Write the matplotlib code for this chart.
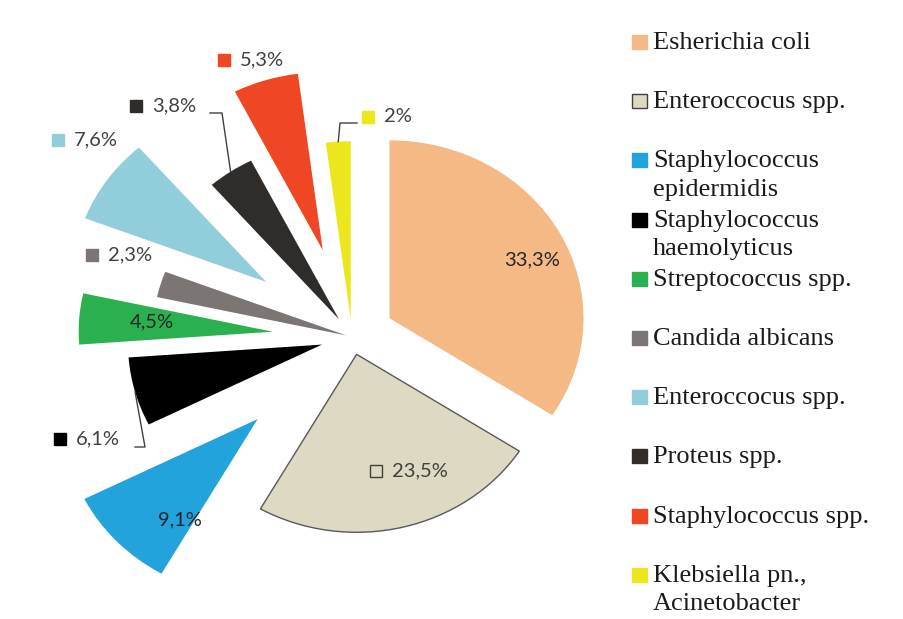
import math
import matplotlib.pyplot as plt

# доли выделенных микроорганизмов, %
species = ['Esherichia coli', 'Enteroccocus spp.', 'Staphylococcus\nepidermidis',
           'Staphylococcus\nhaemolyticus', 'Streptococcus spp.', 'Candida albicans',
           'Enteroccocus spp.', 'Proteus spp.', 'Staphylococcus spp.',
           'Klebsiella pn.,\nAcinetobacter']
shares = [33.3, 23.5, 9.1, 6.1, 4.5, 2.3, 7.6, 3.8, 5.3, 2]

colors = ['#F4B984', '#DDD9C3', '#22A3DC', '#000000', '#2AB04F',
          '#7B7574', '#92CDDC', '#302C29', '#EF4623', '#ECE61C']
explode = [0.22, 0.10, 0.67, 0.16, 0.41, 0.03, 0.54, 0.12, 0.51, 0.10]

W, H = 904, 619
CX, CY = 352, 337      # центр круга, px
RX, RY = 194, 178      # радиус по x и по y, px (диаграмма растянута по ширине)


def px(x, y):
    # пиксели картинки -> координаты данных
    return (x - CX) / RX, (CY - y) / RY


def pct(v):
    return ('%g' % v).replace('.', ',') + '%'


fig = plt.figure(figsize=(W / 100, H / 100), dpi=100)
ax = fig.add_axes([0, 0, 1, 1])

wedges, _ = ax.pie(shares, explode=explode, colors=colors, startangle=90,
                   counterclock=False, radius=1,
                   wedgeprops={'linewidth': 0})
wedges[1].set_edgecolor('#595959')
wedges[1].set_linewidth(1)

ax.set_aspect('auto')
ax.set_xlim(-CX / RX, (W - CX) / RX)
ax.set_ylim((CY - H) / RY, CY / RY)
ax.set_axis_off()

pie_font = 'Lato'
fs = 14.5
# подписи внутри секторов
inside = {0: (532, 260), 4: (152, 322), 2: (180, 520)}
for i, (x, y) in inside.items():
    ax.text(*px(x, y), pct(shares[i]), ha='center', va='center',
            fontsize=fs, family=pie_font, color='#262626')

# подписи с маркером-квадратиком
outside = {8: (224, 60), 7: (136, 106), 6: (58, 140), 5: (92, 255),
           9: (368, 117), 3: (60, 439), 1: (376, 471)}
for i, (x, y) in outside.items():
    edge = '#404040' if i == 1 else colors[i]
    ax.plot(*px(x, y), marker='s', ms=8.5, mfc=colors[i], mec=edge, mew=1)
    ax.text(*px(x + 16, y), pct(shares[i]), ha='left', va='center',
            fontsize=fs, family=pie_font, color='#404040')

# выноски: начало и излом линии (px), конец - середина дуги сектора
leaders = {7: (210, 222, 113), 9: (357, 340, 123), 3: (135, 145, 447)}
for i, (x0, x1, y) in leaders.items():
    w = wedges[i]
    mid = math.radians((w.theta1 + w.theta2) / 2)
    ex = w.center[0] + w.r * math.cos(mid)
    ey = w.center[1] + w.r * math.sin(mid)
    p0 = px(x0, y)
    p1 = px(x1, y)
    ax.plot([p0[0], p1[0], ex], [p0[1], p1[1], ey], color='#404040', lw=1)

# легенда
for i, name in enumerate(species):
    base = 49 + i * 59.2
    ax.add_patch(plt.Rectangle(px(632, base), 15 / RX, 14 / RY,
                               facecolor=colors[i],
                               edgecolor='#404040' if i == 1 else colors[i],
                               lw=1, clip_on=False))
    for k, line in enumerate(name.split('\n')):
        ax.text(*px(653, base + k * 28.5), line, ha='left', va='baseline',
                fontsize=19, family='Liberation Serif', color='#1a1a1a')

fig.savefig('out.png', dpi=100, facecolor='white')
